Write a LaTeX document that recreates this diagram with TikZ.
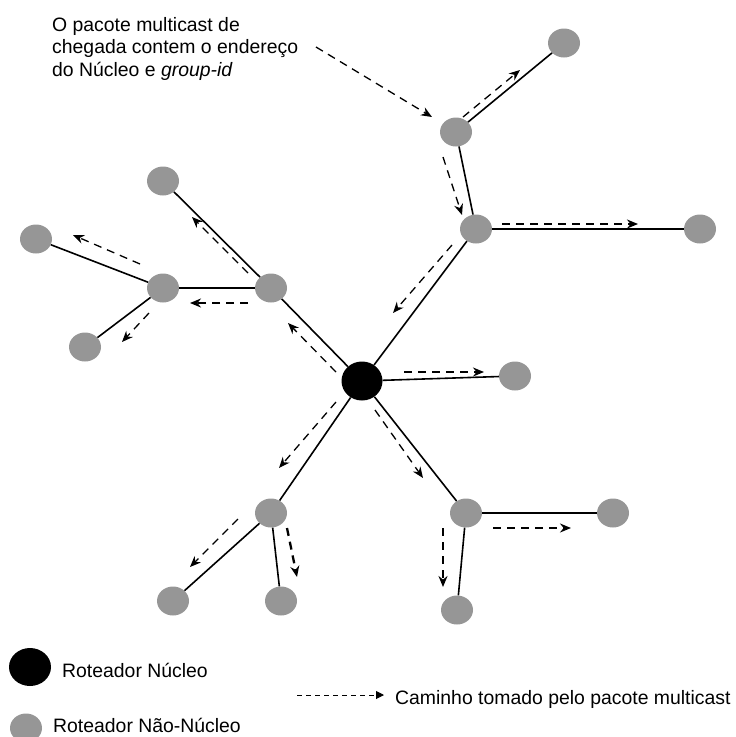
\documentclass[tikz,border=0pt]{standalone}
\usepackage{fontspec}
\setmainfont{Liberation Sans}
\usetikzlibrary{arrows.meta,shapes.geometric}
\definecolor{routergray}{RGB}{150,150,150}
\begin{document}
\begin{tikzpicture}[x=1pt,y=-1pt,
  leaf/.style={ellipse, fill=routergray, minimum width=32pt, minimum height=29pt, inner sep=0pt},
  core/.style={ellipse, fill=black, minimum width=41pt, minimum height=39pt, inner sep=0pt},
  link/.style={line width=1.6pt},
  flow/.style={dash pattern=on 8pt off 6pt, line width=1.3pt, -{Stealth[length=11pt,width=9pt]}},
  heavyflow/.style={flow, line width=2.3pt},
  keyflow/.style={dash pattern=on 5pt off 4pt, line width=1pt, -{Triangle[length=8pt,width=8pt]}},
  txt/.style={font=\fontsize{19.4}{22.5}\selectfont, inner sep=0pt}
]
\useasboundingbox (0,0) rectangle (736,737);

% routers
\node[core] (C)  at (362,381) {};
\node[leaf] (A)  at (456,132) {};
\node[leaf] (A1) at (564,43) {};
\node[leaf] (B)  at (476,229) {};
\node[leaf] (B1) at (700,229) {};
\node[leaf] (R)  at (515,376) {};
\node[leaf] (D)  at (466,513) {};
\node[leaf] (D1) at (613,513) {};
\node[leaf] (D2) at (457,610) {};
\node[leaf] (E)  at (271,513) {};
\node[leaf] (E1) at (173,601) {};
\node[leaf] (E2) at (281,601) {};
\node[leaf] (F)  at (271,288) {};
\node[leaf] (F1) at (163,181) {};
\node[leaf] (G)  at (163,288) {};
\node[leaf] (G1) at (36,239) {};
\node[leaf] (G2) at (85,347) {};

% links of the tree
\begin{scope}[link]
\draw (C) -- (B);  \draw (B) -- (A);  \draw (A) -- (A1); \draw (B) -- (B1);
\draw (C) -- (R);
\draw (C) -- (D);  \draw (D) -- (D1); \draw (D) -- (D2);
\draw (C) -- (E);  \draw (E) -- (E1); \draw (E) -- (E2);
\draw (C) -- (F);  \draw (F) -- (F1); \draw (F) -- (G);
\draw (G) -- (G1); \draw (G) -- (G2);
\end{scope}

% path of the multicast packet
\coordinate (t0) at (316,47);  \coordinate (t1) at (432,117);
\coordinate (p1a) at (463,117); \coordinate (p1b) at (520,70);
\coordinate (p2a) at (443,157); \coordinate (p2b) at (462,215);
\coordinate (p3a) at (502,224); \coordinate (p3b) at (638,224);
\coordinate (p4a) at (452,245); \coordinate (p4b) at (393,313);
\coordinate (p5a) at (404,372); \coordinate (p5b) at (484,372);
\coordinate (p6a) at (375,410); \coordinate (p6b) at (423,478);
\coordinate (p7a) at (493,528); \coordinate (p7b) at (571,528);
\coordinate (p8a) at (443,528); \coordinate (p8b) at (443,587);
\coordinate (p9a) at (336,402); \coordinate (p9b) at (279,468);
\coordinate (p10a) at (238,519); \coordinate (p10b) at (190,567);
\coordinate (p11a) at (287,528); \coordinate (p11b) at (297,577);
\coordinate (p12a) at (336,372); \coordinate (p12b) at (288,323);
\coordinate (p13a) at (248,273); \coordinate (p13b) at (192,217);
\coordinate (p14a) at (248,303); \coordinate (p14b) at (190,303);
\coordinate (p15a) at (140,264); \coordinate (p15b) at (73,235);
\coordinate (p16a) at (149,313); \coordinate (p16b) at (122,342);

\draw[flow] (t0) -- (t1);
\draw[flow] (p1a) -- (p1b);
\draw[flow] (p2a) -- (p2b);
\draw[heavyflow] (p3a) -- (p3b);
\draw[flow] (p4a) -- (p4b);
\draw[heavyflow] (p5a) -- (p5b);
\draw[flow] (p6a) -- (p6b);
\draw[heavyflow] (p7a) -- (p7b);
\draw[heavyflow] (p8a) -- (p8b);
\draw[flow] (p9a) -- (p9b);
\draw[flow] (p10a) -- (p10b);
\draw[heavyflow] (p11a) -- (p11b);
\draw[flow] (p12a) -- (p12b);
\draw[flow] (p13a) -- (p13b);
\draw[heavyflow] (p14a) -- (p14b);
\draw[flow] (p15a) -- (p15b);
\draw[flow] (p16a) -- (p16b);

% annotation
\node[txt, anchor=north west, align=left] (note) at (52,17)
  {O pacote multicast de\\chegada contem o endereço\\do Núcleo e \textit{group-id}};

% legend
\node[core, minimum width=42pt, minimum height=38pt] (kc) at (30,667) {};
\node[txt, anchor=base west] (kct) at (62,677) {Roteador Núcleo};
\node[leaf] (kl) at (26,728) {};
\node[txt, anchor=base west] (klt) at (53,732) {Roteador Não-Núcleo};
\coordinate (k0) at (297,695); \coordinate (k1) at (384,695);
\draw[keyflow] (k0) -- (k1);
\node[txt, anchor=base west] (kft) at (395,704) {Caminho tomado pelo pacote multicast};
\end{tikzpicture}
\end{document}
